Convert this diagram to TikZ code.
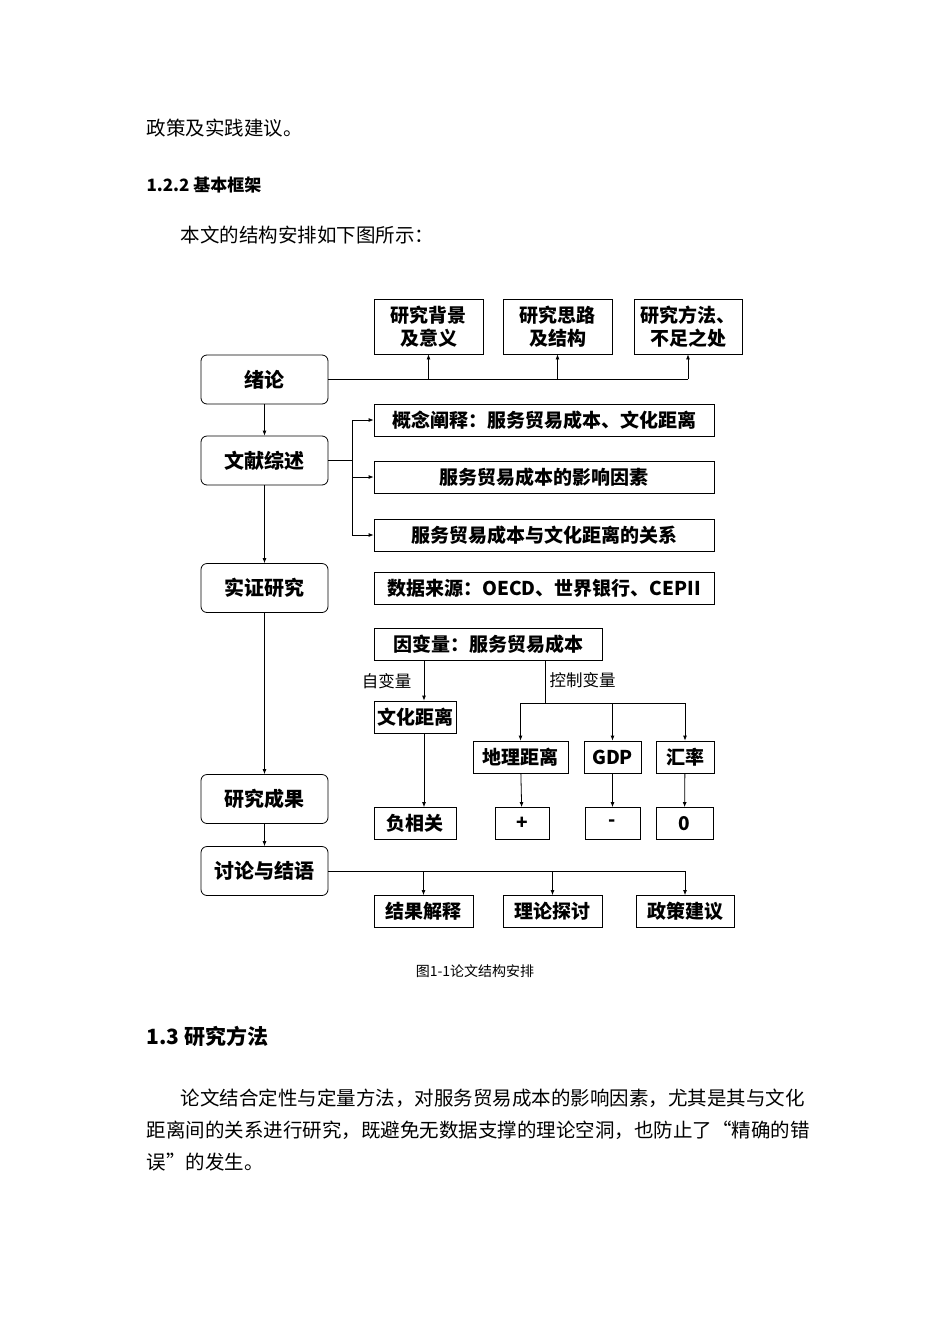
\documentclass[tikz,border=0pt]{standalone}
\usepackage{fontspec}
\setmainfont{Noto Sans CJK SC}
\usetikzlibrary{arrows.meta}
\begin{document}
\begin{tikzpicture}[x=1pt,y=-1pt,
	rbox/.style={draw,thick,rounded corners=6pt,minimum width=127pt,minimum height=49pt,font=\fontsize{20}{20}\selectfont\bfseries},
	sbox/.style={draw,thick,minimum height=32pt,inner sep=2pt,font=\fontsize{19}{19}\selectfont\bfseries},
	tbox/.style={draw,thick,minimum height=55pt,align=center,font=\fontsize{19}{23}\selectfont\bfseries},
	arr/.style={-{Latex[length=5pt,width=4pt]},thick},
	ln/.style={thick},
	body/.style={anchor=west,font=\fontsize{19.5}{19.5}\selectfont}]
	%set page size
	\useasboundingbox (0,0) rectangle (950,1344);

	% Page text
	\node[body] (t1) at (143,128) {政策及实践建议。};
	\node[body,font=\fontsize{17}{17}\selectfont\bfseries] (t2) at (143,185) {1.2.2 基本框架};
	\node[body] (t3) at (177,235) {本文的结构安排如下图所示：};
	\node[body,font=\fontsize{21}{21}\selectfont\bfseries] (t4) at (143,1036) {1.3 研究方法};
	\node[body] (t5) at (177,1098) {论文结合定性与定量方法，对服务贸易成本的影响因素，尤其是其与文化};
	\node[body] (t6) at (143,1130) {距离间的关系进行研究，既避免无数据支撑的理论空洞，也防止了“精确的错};
	\node[body] (t7) at (143,1162) {误”的发生。};
	\node[font=\fontsize{14}{14}\selectfont] (cap) at (475,971) {图1-1论文结构安排};

	% Left column
	\node[rbox] (xulun) at (264.5,379.5) {绪论};
	\node[rbox] (wenxian) at (264.5,460.5) {文献综述};
	\node[rbox] (shizheng) at (264.5,588) {实证研究};
	\node[rbox] (chengguo) at (264.5,799) {研究成果};
	\node[rbox] (taolun) at (264.5,871) {讨论与结语};

	\draw[arr] (xulun) -- (wenxian);
	\draw[arr] (wenxian) -- (shizheng);
	\draw[arr] (shizheng) -- (chengguo);
	\draw[arr] (chengguo) -- (taolun);

	% Top boxes
	\node[tbox,minimum width=109pt] (beijing) at (428.5,326.5) {研究背景\\及意义};
	\node[tbox,minimum width=109pt] (silu) at (557.5,326.5) {研究思路\\及结构};
	\node[tbox,minimum width=108pt] (fangfa) at (688,326.5) {研究方法、\\不足之处};
	\coordinate (xr) at (688,379);
	\draw[ln] (xulun.east |- xr) -- (xr);
	\draw[arr] (beijing.south |- xr) -- (beijing.south);
	\draw[arr] (silu.south |- xr) -- (silu.south);
	\draw[arr] (xr) -- (fangfa.south);

	% Literature boxes
	\node[sbox,minimum width=340pt] (gainian) at (544,420) {概念阐释：服务贸易成本、文化距离};
	\node[sbox,minimum width=340pt] (yingxiang) at (544,477) {服务贸易成本的影响因素};
	\node[sbox,minimum width=340pt] (guanxi) at (544,535) {服务贸易成本与文化距离的关系};
	\node[sbox,minimum width=340pt] (shuju) at (544,588) {数据来源：OECD、世界银行、CEPII};
	\coordinate (wj) at (352,460);
	\draw[ln] (wenxian.east |- wj) -- (wj);
	\draw[ln] (wj |- gainian) -- (wj |- guanxi);
	\draw[arr] (wj |- gainian) -- (gainian);
	\draw[arr] (wj |- yingxiang) -- (yingxiang);
	\draw[arr] (wj |- guanxi) -- (guanxi);

	% Variables
	\node[sbox,minimum width=228pt] (yinbian) at (488,644) {因变量：服务贸易成本};
	\node[sbox,minimum width=82pt] (wenhua) at (415,717) {文化距离};
	\node[sbox,minimum width=95pt] (dili) at (520.5,757) {地理距离};
	\node[sbox,minimum width=57pt] (gdp) at (612.5,757) {GDP};
	\node[sbox,minimum width=58pt] (huilv) at (685,757) {汇率};
	\node[sbox,minimum width=82pt] (fu) at (415,823.5) {负相关};
	\node[sbox,minimum width=54pt] (plus) at (522,823.5) {+};
	\node[sbox,minimum width=55pt] (minus) at (612.5,823.5) {-};
	\node[sbox,minimum width=57pt] (zero) at (684.5,823.5) {0};

	\draw[arr] (yinbian.south -| 424,0) -- (wenhua.north -| 424,0);
	\node[anchor=east,font=\fontsize{16.5}{16.5}\selectfont] (zibian) at (415,681) {自变量};
	\coordinate (kz) at (545,703);
	\draw[ln] (yinbian.south -| kz) -- (kz);
	\node[anchor=west,font=\fontsize{16.5}{16.5}\selectfont] (kongzhi) at (546,680) {控制变量};
	\draw[ln] (kz -| dili) -- (kz -| huilv);
	\draw[arr] (kz -| dili) -- (dili);
	\draw[arr] (kz -| gdp) -- (gdp);
	\draw[arr] (kz -| huilv) -- (huilv);
	\draw[arr] (wenhua.south -| 424,0) -- (fu.north -| 424,0);
	\draw[arr] (dili) -- (plus);
	\draw[arr] (gdp) -- (minus);
	\draw[arr] (huilv) -- (zero);

	% Conclusion boxes
	\node[sbox,minimum width=99pt] (jieguo) at (423.5,911.5) {结果解释};
	\node[sbox,minimum width=99pt] (lilun) at (552.5,911.5) {理论探讨};
	\node[sbox,minimum width=98pt] (zhengce) at (685,911.5) {政策建议};
	\coordinate (tr) at (685,871);
	\draw[ln] (taolun.east |- tr) -- (tr);
	\draw[arr] (tr -| jieguo) -- (jieguo);
	\draw[arr] (tr -| lilun) -- (lilun);
	\draw[arr] (tr) -- (zhengce);
\end{tikzpicture}
\end{document}
